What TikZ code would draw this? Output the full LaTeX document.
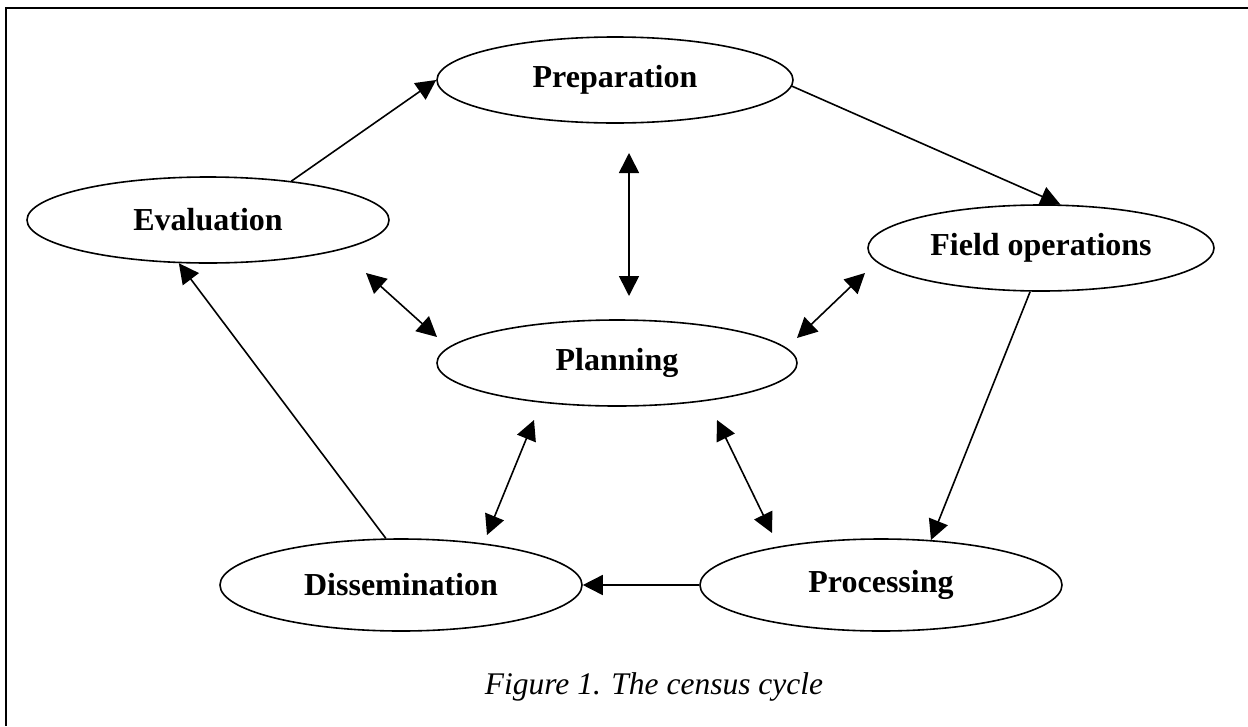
\documentclass[tikz,border=0pt]{standalone}
\usepackage{fontspec}
\setmainfont{Liberation Serif}
\usetikzlibrary{arrows.meta,shapes.geometric}
\tikzset{
  stage/.style={ellipse, draw, line width=1.6pt, minimum width=#1, minimum height=86pt, inner sep=0pt,
    font=\fontsize{32}{36}\selectfont\bfseries},
  stage/.default=360pt,
  flow/.style={line width=1.6pt, -{Triangle[length=20pt,width=20pt]}},
  both/.style={line width=1.6pt, {Triangle[length=20pt,width=20pt]}-{Triangle[length=20pt,width=20pt]}},
  frame/.style={line width=2pt}
}
\begin{document}
\begin{tikzpicture}[x=1pt,y=-1pt]
\useasboundingbox (0,0) rectangle (1248,726);
% frame (only top and left visible)
\coordinate (ftr) at (1248,8);
\coordinate (ftl) at (6,8);
\coordinate (fbl) at (6,726);
\draw[frame] (ftr) -- (ftl) -- (fbl);
% stages
\node[stage=356pt] (prep) at (615,80) {Preparation};
\node[stage=362pt] (eval) at (208,220) {Evaluation};
\node[stage=346pt] (field) at (1041,248) {Field operations};
\node[stage=360pt] (plan) at (617,363) {Planning};
\node[stage=362pt, minimum height=92pt] (diss) at (401,585) {Dissemination};
\node[stage=362pt, minimum height=92pt] (proc) at (881,585) {Processing};
% cycle
\draw[flow] (eval.25) -- (prep.west);
\draw[flow] (prep.-2) -- (field.66);
\draw[flow] (field.-104) -- (proc.42);
\draw[flow] (proc.west) -- (diss.east);
\draw[flow] (diss.108) -- (eval.-124);
% links to planning
\coordinate (a1) at (629,153); \coordinate (a2) at (629,296);
\coordinate (b1) at (366,273); \coordinate (b2) at (437,337);
\coordinate (c1) at (865,273); \coordinate (c2) at (797,338);
\coordinate (d1) at (534,420); \coordinate (d2) at (487,535);
\coordinate (e1) at (717,420); \coordinate (e2) at (772,533);
\draw[both] (a1) -- (a2);
\draw[both] (b1) -- (b2);
\draw[both] (c1) -- (c2);
\draw[both] (d1) -- (d2);
\draw[both] (e1) -- (e2);
% caption
\node[font=\fontsize{31.5}{36}\selectfont\itshape, anchor=base] (cap) at (654,694) {Figure 1. The census cycle};
\end{tikzpicture}
\end{document}
